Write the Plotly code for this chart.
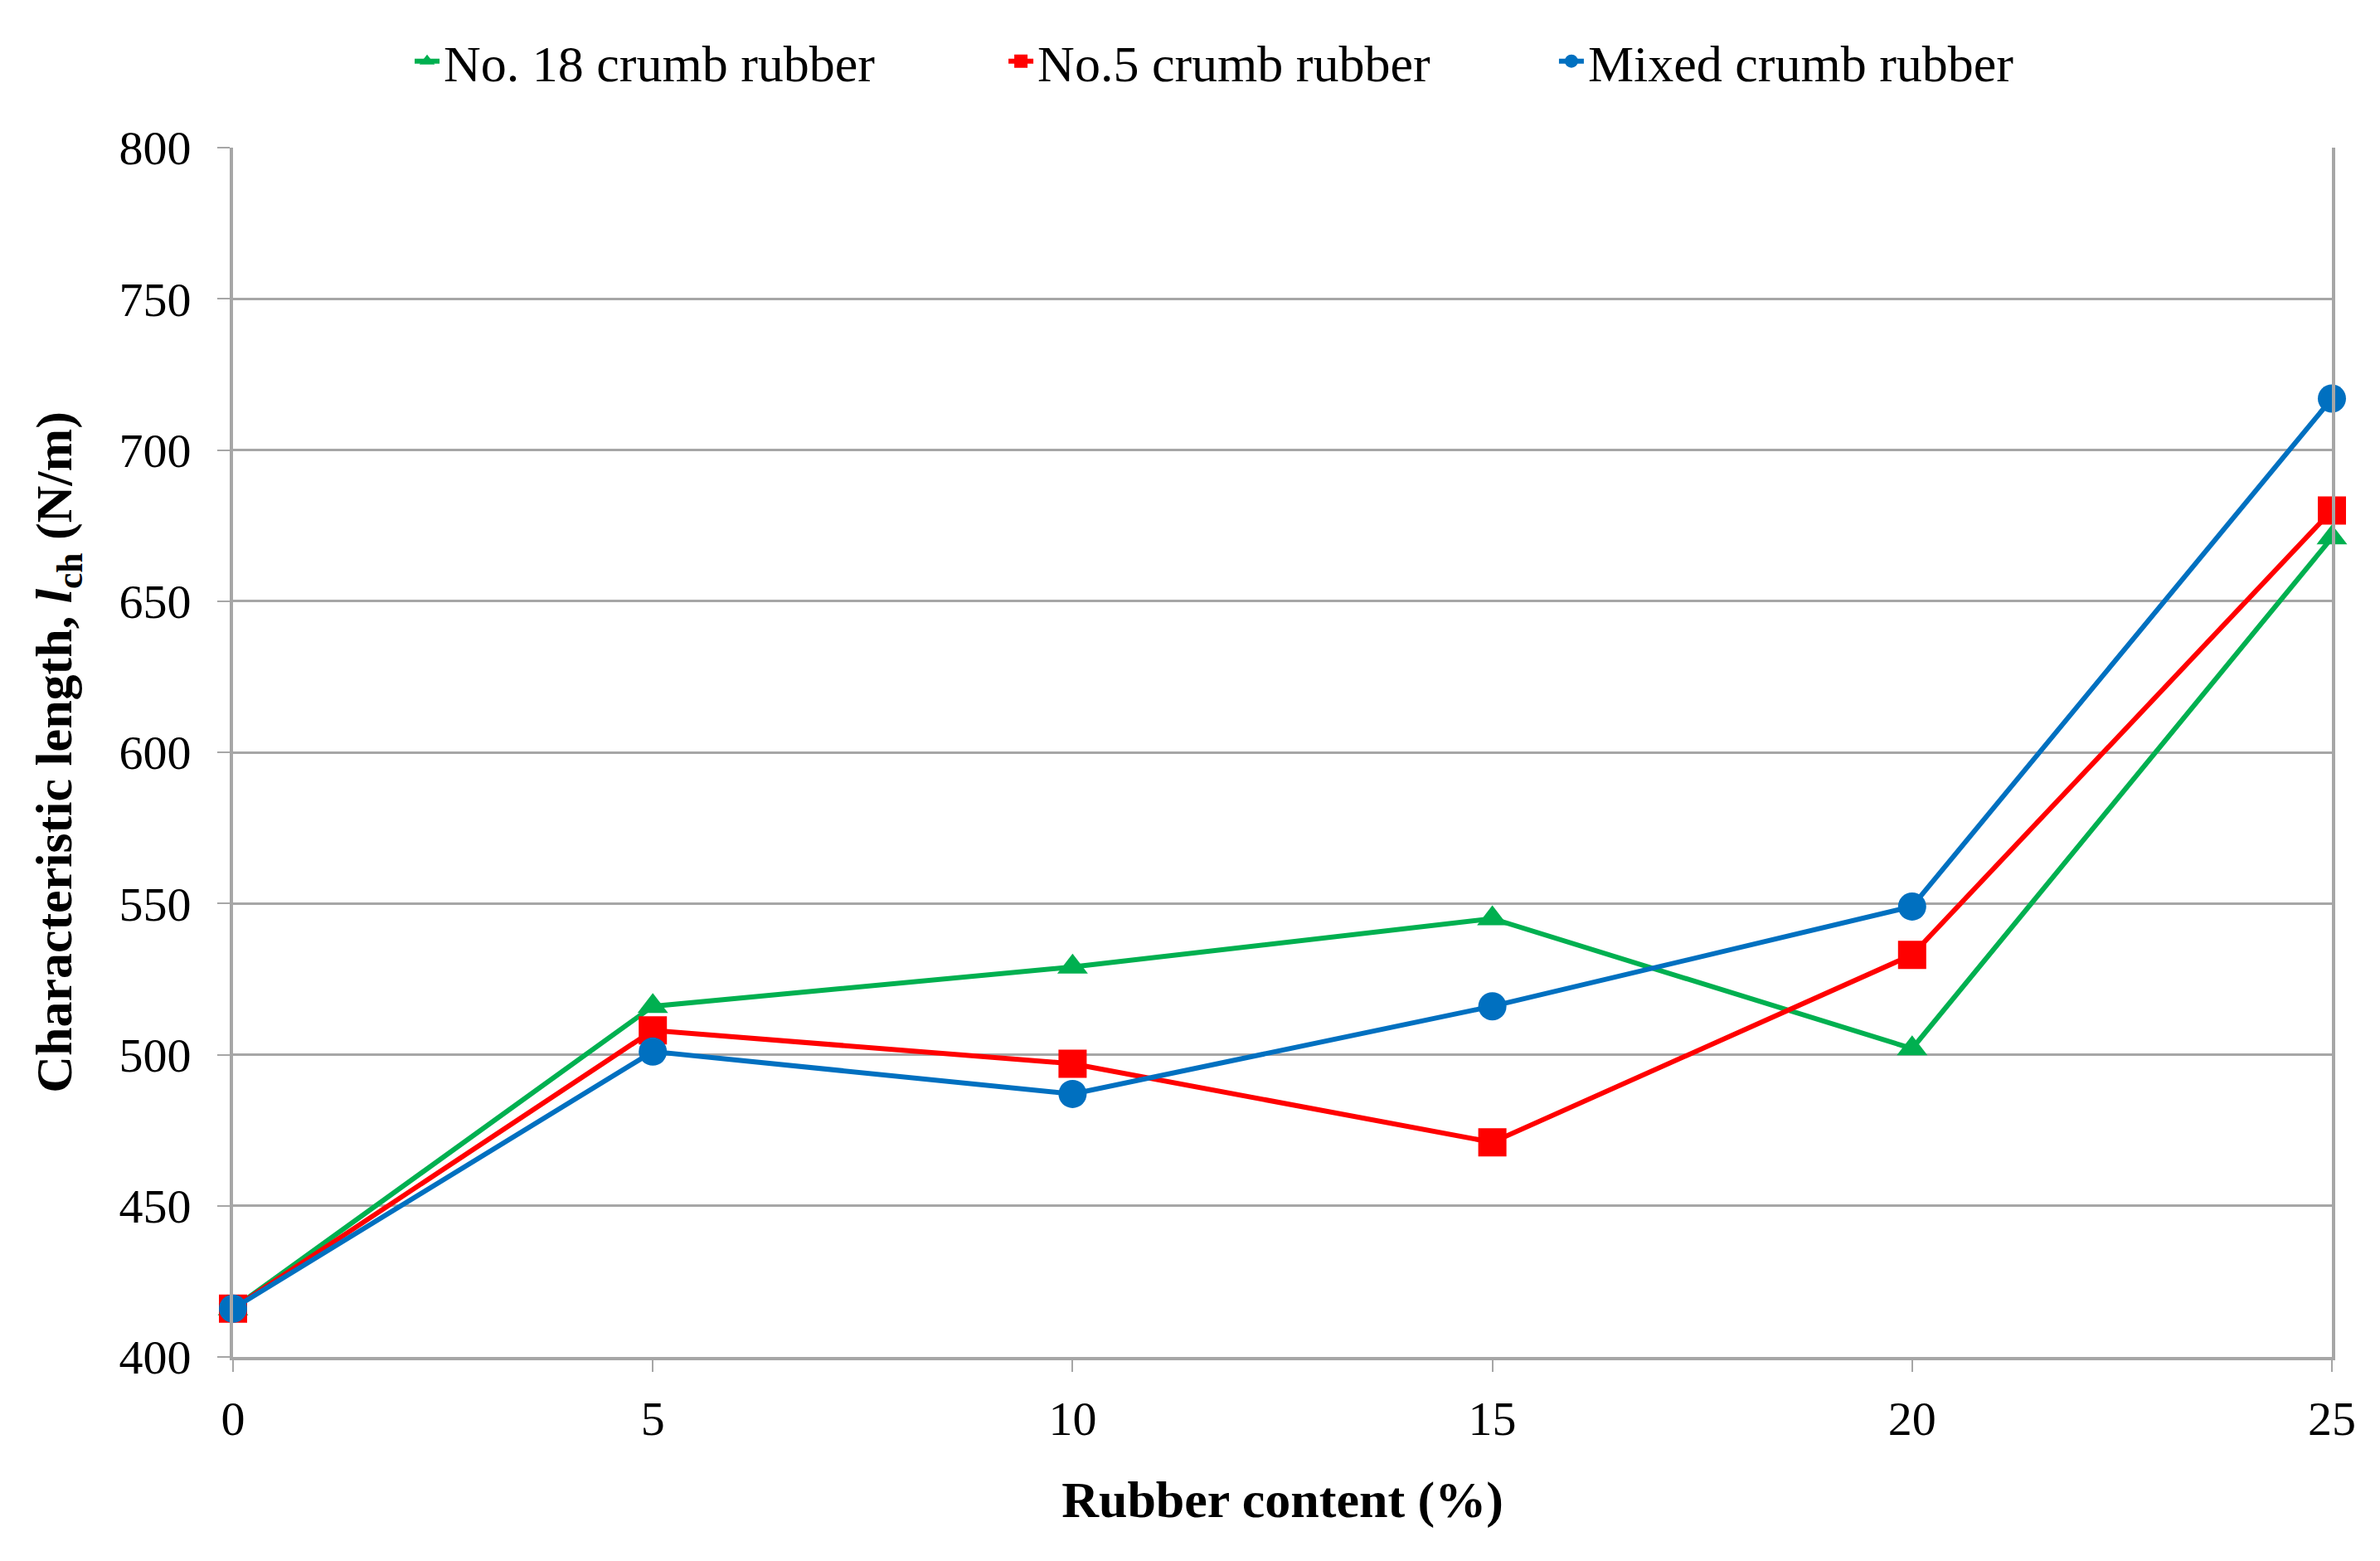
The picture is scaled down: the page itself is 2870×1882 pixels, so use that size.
import plotly.graph_objects as go

rubber_content = [0, 5, 10, 15, 20, 25]
no18 = [416, 516, 529, 545, 502, 671]
no5 = [416, 508, 497, 471, 533, 680]
mixed = [416, 501, 487, 516, 549, 717]

series = [
    ("No. 18 crumb rubber", no18, "#00B050", "triangle-up", "legend"),
    ("No.5 crumb rubber", no5, "#FF0000", "square", "legend2"),
    ("Mixed crumb rubber", mixed, "#0070C0", "circle", "legend3"),
]
legend_x = [0.1697, 0.4192, 0.6505]

FONT = "Liberation Serif, Times New Roman, serif"
GRID = "#A6A6A6"

fig = go.Figure()
for name, vals, color, sym, lg in series:
    fig.add_trace(go.Scatter(
        x=rubber_content, y=vals, name=name, mode="lines+markers",
        line=dict(color=color, width=6),
        marker=dict(symbol=sym, size=34 if sym != "triangle-up" else 32, color=color),
        cliponaxis=False, legend=lg,
    ))

legend_common = dict(orientation="h", xref="container", xanchor="left",
                     yref="container", y=0.965, yanchor="middle",
                     font=dict(family=FONT, size=62, color="black"),
                     bgcolor="rgba(0,0,0,0)")

fig.update_layout(
    width=2870, height=1882,
    paper_bgcolor="white", plot_bgcolor="white",
    margin=dict(l=273, r=66, t=170, b=254, autoexpand=False),
    font=dict(family=FONT, size=58, color="black"),
    showlegend=True,
    legend=dict(x=legend_x[0], **legend_common),
    legend2=dict(x=legend_x[1], **legend_common),
    legend3=dict(x=legend_x[2], **legend_common),
    xaxis=dict(
        range=[0, 25], tickmode="array", tickvals=rubber_content,
        ticks="outside", ticklen=14, tickwidth=2, tickcolor=GRID,
        showgrid=False, zeroline=False,
        showline=True, linecolor=GRID, linewidth=4, mirror=False,
        tickfont=dict(family=FONT, size=58), ticklabelstandoff=6,
        title=dict(text="<b>Rubber content (%)</b>", font=dict(family=FONT, size=62), standoff=45),
        automargin=False,
    ),
    yaxis=dict(
        range=[400, 800], dtick=50, tick0=400,
        ticks="outside", ticklen=15, tickwidth=2, tickcolor=GRID,
        showgrid=True, gridcolor=GRID, gridwidth=3, zeroline=False,
        showline=True, linecolor=GRID, linewidth=4, mirror=True,
        tickfont=dict(family=FONT, size=58), ticklabelstandoff=20,
        title=dict(text="<b>Characteristic length, <i>l</i><sub>ch</sub> (N/m)</b>",
                   font=dict(family=FONT, size=62), standoff=38),
        automargin=False,
    ),
)

fig.write_html("out.html")
